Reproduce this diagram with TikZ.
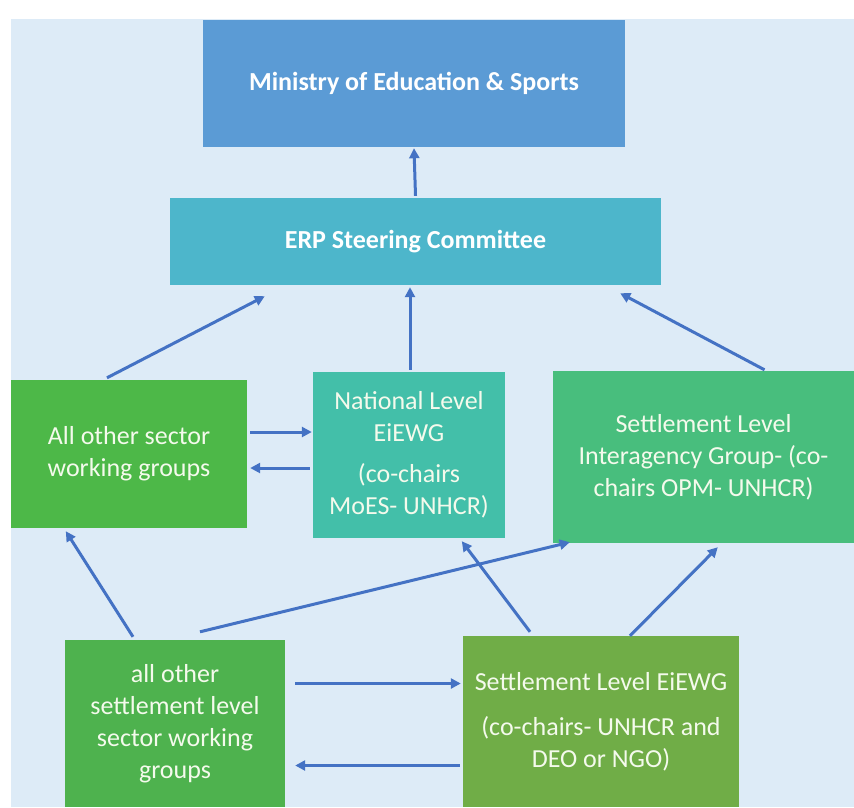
\documentclass[tikz,border=0pt]{standalone}
\usepackage{fontspec}
\setmainfont{Carlito}
\usetikzlibrary{arrows.meta}
\definecolor{bgblue}{HTML}{DDEBF7}
\definecolor{ministry}{HTML}{5B9BD5}
\definecolor{steer}{HTML}{4DB6CB}
\definecolor{sectorgreen}{HTML}{4DB848}
\definecolor{natteal}{HTML}{43BFA9}
\definecolor{intergreen}{HTML}{48BE7D}
\definecolor{setgreen}{HTML}{4EB24E}
\definecolor{olive}{HTML}{70AD47}
\definecolor{arrowblue}{HTML}{4472C4}
\definecolor{cream}{HTML}{F4FAEC}
\tikzset{
  box/.style={rectangle, inner sep=0pt, text=cream, align=center,
    font=\fontsize{26}{32}\selectfont},
  boldbox/.style={box, text=white, font=\fontsize{26}{32}\selectfont\bfseries},
  link/.style={draw=arrowblue, line width=3pt,
    -{Triangle[length=10pt,width=10pt]}}
}
\begin{document}
\begin{tikzpicture}[x=1pt,y=-1pt]
  \useasboundingbox (0,0) rectangle (854,807);
  \fill[bgblue] (11,19) rectangle (854,807);

  % boxes
  \node[boldbox, fill=ministry, minimum width=422pt, minimum height=127pt]
    (moes) at (414,83.5) {Ministry of Education \& Sports};
  \node[boldbox, fill=steer, minimum width=491pt, minimum height=87pt]
    (erp) at (415.5,241.5) {ERP Steering Committee};
  \node[box, fill=sectorgreen, minimum width=236pt, minimum height=148pt]
    (sector) at (129,454) {All other sector\\working groups};
  \node[box, fill=natteal, minimum width=192pt, minimum height=166pt]
    (nat) at (409,455) {National Level\\EiEWG\\[9pt](co-chairs\\MoES- UNHCR)};
  \node[box, fill=intergreen, minimum width=301pt, minimum height=172pt]
    (inter) at (703.5,457) {Settlement Level\\Interagency Group- (co-\\chairs OPM- UNHCR)};
  \node[box, fill=setgreen, minimum width=220pt, minimum height=167pt]
    (setsector) at (175,723.5) {all other\\settlement level\\sector working\\groups};
  \node[box, fill=olive, minimum width=276pt, minimum height=171pt]
    (seteie) at (601,721.5) {Settlement Level EiEWG\\[13pt](co-chairs- UNHCR and\\DEO or NGO)};

  % connectors (anchor shifts are in page orientation: positive yshift is upward)
  \draw[link] ([yshift=2pt]erp.north) -- ([yshift=-1pt]moes.south);
  \draw[link] ([xshift=-22pt,yshift=2pt]sector.north) -- ([xshift=95pt,yshift=-11pt]erp.south west);
  \draw[link] ([xshift=1pt,yshift=2pt]nat.north) -- ([xshift=-5.5pt,yshift=-2pt]erp.south);
  \draw[link] ([xshift=61pt,yshift=1pt]inter.north) -- ([xshift=-41pt,yshift=-8pt]erp.south east);
  \draw[link] ([xshift=3pt,yshift=22pt]sector.east) -- ([xshift=-1pt,yshift=23pt]nat.west);
  \draw[link] ([xshift=-3pt,yshift=-13pt]nat.west) -- ([xshift=3pt,yshift=-14pt]sector.east);
  \draw[link] ([xshift=-42pt,yshift=3pt]setsector.north) -- ([xshift=55pt,yshift=-3pt]sector.south west);
  \draw[link] ([xshift=25pt,yshift=8pt]setsector.north) -- ([xshift=17pt,yshift=1pt]inter.south west);
  \draw[link] ([xshift=-71pt,yshift=4pt]seteie.north) -- ([xshift=149pt,yshift=-3pt]nat.south west);
  \draw[link] ([xshift=29pt]seteie.north) -- ([xshift=165pt,yshift=-4pt]inter.south west);
  \draw[link] ([xshift=10pt,yshift=40pt]setsector.east) -- ([xshift=-2pt,yshift=38pt]seteie.west);
  \draw[link] ([xshift=-3pt,yshift=-44pt]seteie.west) -- ([xshift=10pt,yshift=-42pt]setsector.east);
\end{tikzpicture}
\end{document}
